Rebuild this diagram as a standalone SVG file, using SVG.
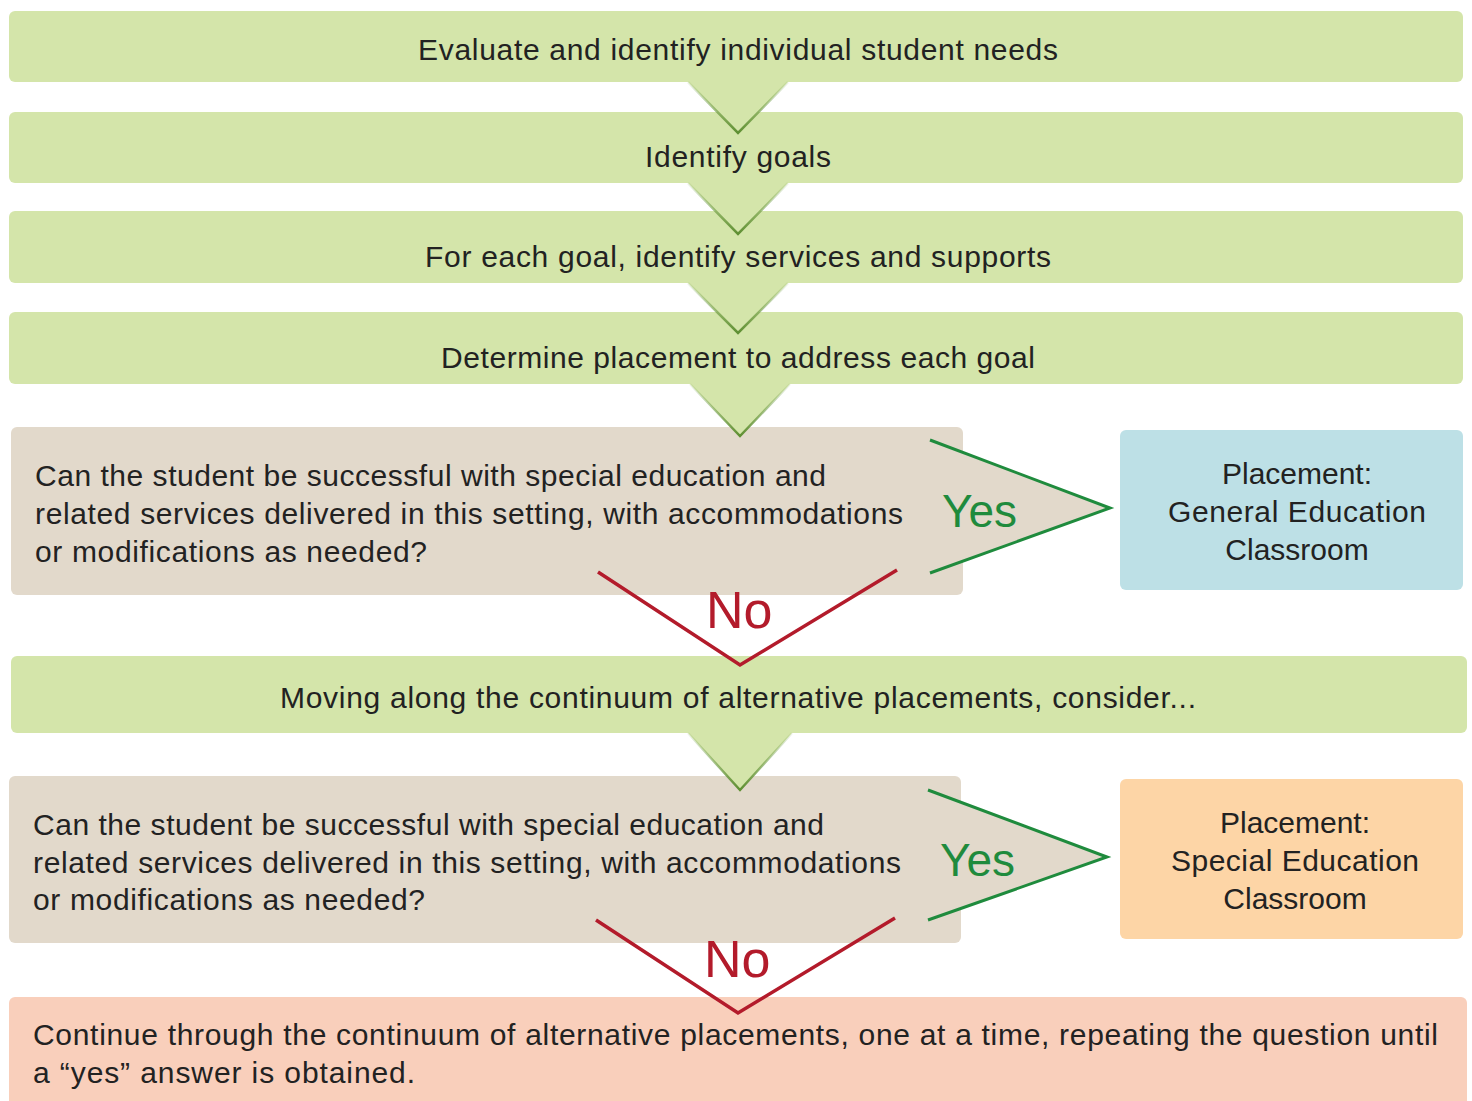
<svg xmlns="http://www.w3.org/2000/svg" width="1472" height="1101" viewBox="0 0 1472 1101">
<style>
.g{fill:#d4e5aa}
.q{fill:#e2d9cb}
.t{font-family:"Liberation Sans",Arial,sans-serif;font-size:30px;fill:#222}
.c{text-anchor:middle}
.yes{font-family:"Liberation Sans",Arial,sans-serif;font-size:46px;fill:#1f8b3d}
.no{font-family:"Liberation Sans",Arial,sans-serif;font-size:52px;fill:#b31b2b}
.dn{fill:#d4e5aa}
.dns{fill:none;stroke:url(#gg);stroke-width:2.5}
.ys{fill:none;stroke:#1f8b3d;stroke-width:3}
.ns{fill:none;stroke:#b31b2b;stroke-width:3.5}
</style>
<defs>
<linearGradient id="gg" x1="0" y1="0" x2="0" y2="1">
<stop offset="0" stop-color="#6b9a3c" stop-opacity="0.1"/>
<stop offset="1" stop-color="#5e8f32" stop-opacity="1"/>
</linearGradient>
</defs>
<rect width="1472" height="1101" fill="#fff"/>
<g id="n1"><rect class="g" x="9" y="11" width="1454" height="71" rx="6"/><text class="t c" x="738" y="60" textLength="640">Evaluate and identify individual student needs</text></g>
<g id="n2"><rect class="g" x="9" y="112" width="1454" height="71" rx="6"/><text class="t c" x="738" y="167" textLength="186">Identify goals</text></g>
<g id="n3"><rect class="g" x="9" y="211" width="1454" height="72" rx="6"/><text class="t c" x="738" y="267" textLength="626">For each goal, identify services and supports</text></g>
<g id="n4"><rect class="g" x="9" y="312" width="1454" height="72" rx="6"/><text class="t c" x="738" y="368" textLength="594">Determine placement to address each goal</text></g>
<g id="q1"><rect class="q" x="11" y="427" width="952" height="168" rx="6"/>
<text class="t" x="35" y="486" textLength="791">Can the student be successful with special education and</text>
<text class="t" x="35" y="524" textLength="868">related services delivered in this setting, with accommodations</text>
<text class="t" x="35" y="562" textLength="392">or modifications as needed?</text></g>
<g id="p1"><rect x="1120" y="430" width="343" height="160" rx="6" fill="#bde0e6"/>
<text class="t c" x="1297" y="484">Placement:</text>
<text class="t c" x="1297" y="522" textLength="258">General Education</text>
<text class="t c" x="1297" y="560">Classroom</text></g>
<g id="n5"><rect class="g" x="11" y="656" width="1456" height="77" rx="6"/><text class="t c" x="738" y="708" textLength="916">Moving along the continuum of alternative placements, consider...</text></g>
<g id="q2"><rect class="q" x="9" y="776" width="952" height="167" rx="6"/>
<text class="t" x="33" y="835" textLength="791">Can the student be successful with special education and</text>
<text class="t" x="33" y="873" textLength="868">related services delivered in this setting, with accommodations</text>
<text class="t" x="33" y="910" textLength="392">or modifications as needed?</text></g>
<g id="p2"><rect x="1120" y="779" width="343" height="160" rx="6" fill="#fdd5a6"/>
<text class="t c" x="1295" y="833">Placement:</text>
<text class="t c" x="1295" y="871" textLength="248">Special Education</text>
<text class="t c" x="1295" y="909">Classroom</text></g>
<g id="n6"><rect x="9" y="997" width="1458" height="110" rx="6" fill="#f9cfbb"/>
<text class="t" x="33" y="1045" textLength="1405">Continue through the continuum of alternative placements, one at a time, repeating the question until</text>
<text class="t" x="33" y="1083" textLength="382">a “yes” answer is obtained.</text></g>
<g id="connectors">
<polygon class="dn" points="688,82 788,82 738,133"/><polyline class="dns" points="688,82 738,133 788,82"/>
<polygon class="dn" points="688,183 788,183 738,234"/><polyline class="dns" points="688,183 738,234 788,183"/>
<polygon class="dn" points="688,283 788,283 738,333"/><polyline class="dns" points="688,283 738,333 788,283"/>
<polygon class="dn" points="690,384 790,384 740,436"/><polyline class="dns" points="690,384 740,436 790,384"/>
<polygon class="q" points="962,452 1110,508 962,561"/><polyline class="ys" points="930,440 1110,508 930,573"/>
<text class="yes" x="942" y="527">Yes</text>
<polyline class="ns" points="598,572 740,665 897,570"/>
<text class="no" x="706" y="628">No</text>
<polygon class="dn" points="688,733 792,733 740,790"/><polyline class="dns" points="688,733 740,790 792,733"/>
<polygon class="q" points="960,802 1107,857 960,908"/><polyline class="ys" points="928,790 1107,857 928,920"/>
<text class="yes" x="940" y="876">Yes</text>
<polyline class="ns" points="596,920 738,1013 895,918"/>
<text class="no" x="704" y="977">No</text>
</g>
</svg>
